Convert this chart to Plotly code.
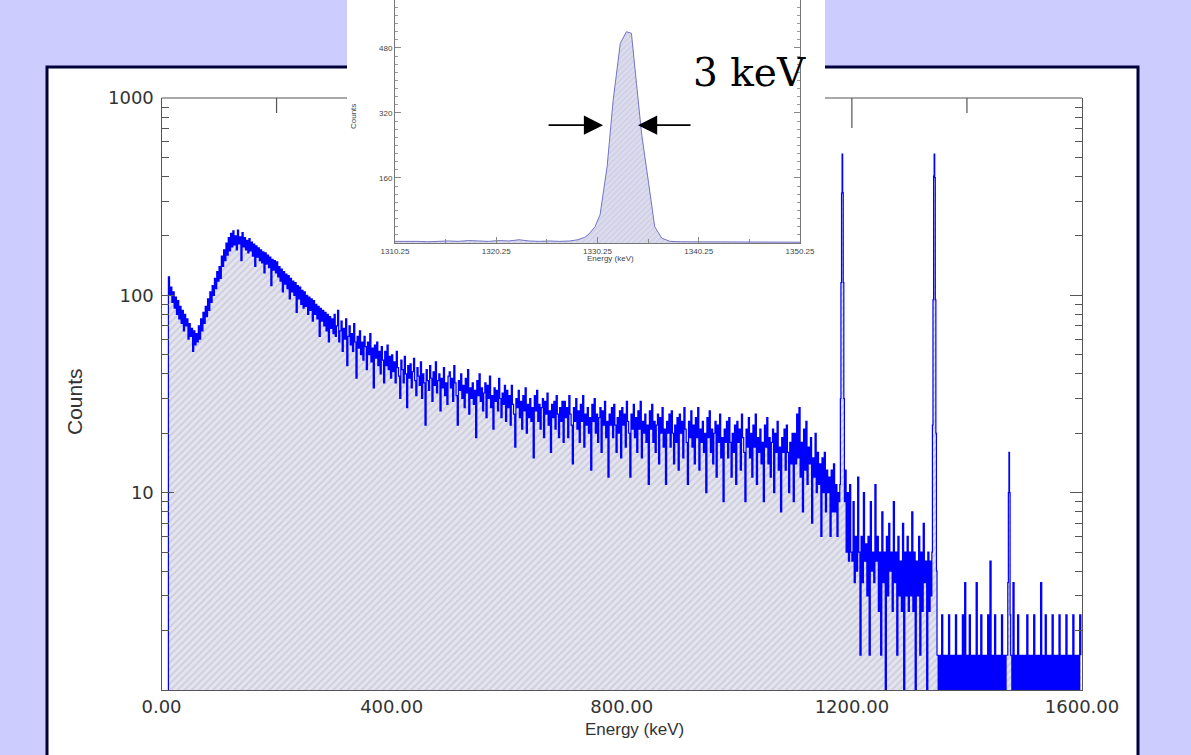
import plotly.graph_objects as go

W, H = 1191, 755

# ---------------- main spectrum data ----------------
CH_WIDTH = 2  # keV per continuum channel (channel i starts at i*CH_WIDTH keV)
cont_counts = [
    # 0 - 98 keV
    0.5, 0.5, 0.5, 0.5, 0.5, 0.5, 124, 100, 110, 92, 104, 86, 98, 80, 94, 76, 88, 72, 84, 66, 80, 70, 76, 60, 72,
    62, 68, 52, 66, 56, 64, 58, 70, 60, 76, 66, 82, 72, 88, 78, 96, 84, 104, 92, 112, 100, 122, 108, 132, 118,
    # 100 - 198
    140, 122, 158, 140, 170, 150, 184, 160, 196, 168, 206, 176, 212, 180, 200, 170, 214, 182, 198, 150, 208, 176, 196, 170, 190,
    164, 194, 168, 186, 158, 182, 140, 178, 156, 174, 150, 170, 146, 166, 130, 164, 144, 160, 138, 156, 112, 152, 134, 150, 130,
    # 200 - 298
    148, 124, 140, 118, 136, 104, 132, 114, 128, 108, 126, 96, 122, 104, 118, 100, 116, 82, 112, 96, 110, 90, 106, 86, 104,
    88, 100, 80, 98, 84, 96, 74, 94, 80, 90, 76, 88, 62, 86, 74, 84, 70, 82, 66, 80, 58, 78, 68, 76, 64,
    # 300 - 398
    80, 62, 70, 84, 58, 66, 74, 52, 68, 60, 76, 44, 62, 70, 56, 64, 52, 72, 58, 38, 62, 54, 66, 50, 58,
    47, 62, 55, 42, 58, 50, 64, 46, 54, 34, 56, 48, 58, 44, 52, 40, 55, 47, 36, 52, 44, 56, 42, 49, 38,
    # 400 - 498
    50, 41, 46, 36, 52, 43, 39, 30, 47, 42, 36, 49, 40, 27, 44, 38, 45, 34, 41, 48, 37, 31, 43, 39, 35,
    46, 30, 40, 36, 22, 42, 37, 33, 44, 38, 29, 41, 35, 46, 32, 37, 40, 26, 38, 34, 43, 31, 36, 28, 39,
    # 500 - 598
    41, 34, 38, 29, 44, 36, 31, 22, 37, 33, 40, 30, 35, 27, 38, 32, 42, 25, 34, 30, 36, 28, 33, 19, 37,
    31, 40, 29, 34, 26, 32, 36, 24, 35, 30, 39, 27, 31, 21, 34, 29, 33, 26, 38, 30, 24, 32, 28, 35, 23,
    # 600 - 698
    33, 27, 31, 22, 35, 28, 25, 17, 30, 27, 33, 24, 29, 21, 31, 26, 34, 20, 28, 24, 30, 23, 27, 15, 31,
    26, 33, 23, 28, 21, 27, 30, 19, 29, 25, 32, 22, 26, 16, 28, 24, 29, 21, 31, 25, 19, 27, 23, 29, 18,
    # 700 - 798
    29, 24, 27, 19, 31, 25, 22, 14, 27, 23, 30, 21, 26, 18, 28, 23, 31, 17, 25, 22, 27, 20, 24, 13, 28,
    23, 30, 20, 25, 18, 24, 27, 16, 26, 22, 29, 19, 23, 12, 25, 22, 27, 19, 28, 22, 16, 24, 20, 26, 15,
    # 800 - 898
    27, 22, 25, 17, 29, 23, 20, 12, 25, 21, 28, 19, 24, 16, 26, 21, 29, 15, 23, 20, 25, 18, 22, 11, 26,
    21, 28, 18, 23, 16, 22, 25, 14, 24, 20, 27, 17, 21, 11, 23, 20, 25, 17, 26, 20, 14, 22, 18, 24, 13,
    # 900 - 998
    25, 20, 23, 15, 27, 21, 18, 11, 23, 19, 26, 17, 22, 14, 24, 19, 27, 13, 21, 18, 23, 16, 20, 10, 24,
    19, 26, 16, 21, 14, 20, 23, 12, 22, 18, 25, 15, 19, 9, 21, 18, 23, 15, 24, 18, 12, 20, 16, 22, 11,
    # 1000 - 1098
    23, 18, 21, 13, 25, 19, 16, 9, 21, 17, 24, 15, 20, 12, 22, 17, 25, 11, 19, 16, 21, 14, 18, 9, 22,
    17, 24, 14, 19, 12, 18, 21, 10, 20, 16, 23, 13, 17, 8, 19, 16, 21, 13, 22, 16, 10, 18, 14, 20, 9,
    # 1100 - 1198
    20, 14, 25, 15, 27, 12, 18, 8, 21, 13, 23, 11, 17, 14, 19, 7, 15, 12, 20, 10, 16, 11, 14, 6, 15,
    10, 16, 8, 13, 10, 12, 6, 13, 8, 14, 8, 11, 6, 10, 9, 10, 10, 10, 10, 13, 5, 10, 4.5, 11, 5,
    # 1200 - 1298
    4.5, 9, 3.5, 6, 4, 12, 5, 1.5, 6, 3.5, 10, 4.5, 5.5, 3, 6, 1.5, 9, 4, 5, 3.5, 11, 4.5, 6, 2.5, 5,
    1.5, 8, 3.5, 5, 0.5, 6, 3, 7, 4, 5, 2.5, 9, 3.5, 5, 1.5, 6, 3, 4.5, 2.5, 7, 0.5, 5, 3, 6, 2.5,
    # 1300 - 1398
    5, 3, 8, 2.5, 5, 0.5, 4.5, 3, 6, 1.5, 5, 2.5, 7, 3.5, 4.5, 0.5, 5, 2.5, 4.5, 3, 3, 3, 3, 3, 1.5,
    0.5, 1.5, 0.5, 2.4, 0.5, 1.5, 0.5, 1.5, 0.5, 2.4, 0.5, 1.5, 0.5, 1.5, 0.5, 2.4, 0.5, 1.5, 0.5, 1.5, 0.5, 2.4, 0.5, 3.5, 0.5,
    # 1400 - 1498
    1.5, 0.5, 2.4, 0.5, 1.5, 0.5, 1.5, 0.5, 3.5, 0.5, 1.5, 0.5, 2.4, 0.5, 1.5, 0.5, 1.5, 0.5, 2.4, 0.5, 4.5, 0.5, 1.5, 0.5, 2.4,
    0.5, 1.5, 0.5, 1.5, 0.5, 2.4, 0.5, 1.5, 0.5, 1.5, 1.5, 1.5, 1.5, 1.5, 0.5, 3.5, 0.5, 1.5, 0.5, 2.4, 0.5, 1.5, 0.5, 1.5, 0.5,
    # 1500 - 1598
    1.5, 0.5, 2.4, 0.5, 1.5, 0.5, 1.5, 0.5, 2.4, 0.5, 1.5, 0.5, 1.5, 0.5, 3.5, 0.5, 1.5, 0.5, 2.4, 0.5, 1.5, 0.5, 1.5, 0.5, 2.4,
    0.5, 1.5, 0.5, 1.5, 0.5, 2.4, 0.5, 1.5, 0.5, 1.5, 0.5, 2.4, 0.5, 1.5, 0.5, 1.5, 0.5, 2.4, 0.5, 1.5, 0.5, 1.5, 0.5, 2.4, 1.5,
]

# photopeaks at 1 keV resolution
peak1_energy = [1179, 1180, 1181, 1182, 1183, 1184, 1185, 1186, 1187]
peak1_counts = [11, 30, 116, 330, 519, 332, 116, 30, 9]
peak2_energy = [1339, 1340, 1341, 1342, 1343, 1344, 1345, 1346, 1347]
peak2_counts = [5, 22, 95, 402, 519, 395, 95, 20, 4]
peak3_energy = [1470, 1471, 1472, 1473, 1474, 1475, 1476]
peak3_counts = [1.5, 3.5, 10, 16, 10, 2.4, 1.5]

FLOOR = 0.5  # below the visible log range -> bars reach the bottom axis

# ---------------- inset (zoom on the 1332 keV peak) ----------------
inset_energy = [1310.25, 1311.5, 1312.5, 1313.5, 1314.5, 1315.5, 1316.5, 1317.5, 1318.5, 1319.5,
                1320.5, 1321.5, 1322.5, 1323.5, 1324.5, 1325.5, 1326.5, 1327.5, 1328.3, 1329.0,
                1329.4, 1330.0, 1330.5, 1331.2, 1331.8, 1332.5, 1333.1, 1333.6, 1334.1, 1334.6,
                1335.3, 1335.9, 1336.6, 1337.4, 1338.5, 1340.0, 1342.0, 1344.0, 1346.0, 1348.0, 1350.25]
inset_counts = [4, 5, 4, 3, 4, 5, 4, 6, 5, 4,
                6, 5, 8, 5, 4, 5, 4, 5, 8, 14,
                22, 40, 69, 188, 352, 491, 520, 516, 393, 270,
                147, 40, 12, 4, 3, 3, 2, 3, 2, 3, 2]
inset_xticks = [1310.25, 1320.25, 1330.25, 1340.25, 1350.25]
inset_yticks = [160, 320, 480]
fwhm_marks = [1330.8, 1334.25]   # arrow tips (keV)
fwhm_level = 290                 # arrow height (counts)

main_xticks = [0, 400, 800, 1200, 1600]
main_yticks = [1, 10, 100, 1000]

# ---------------- layout geometry (pixels) ----------------
def px_x(p):
    return p / W

def px_y(p):
    return 1 - p / H

main_dom_x = [px_x(161.5), px_x(1082)]
main_dom_y = [px_y(690), px_y(98)]
ins_dom_x = [px_x(395), px_x(800)]
ins_dom_y = [px_y(243), 1.0]
inset_box = (347, 825, 0, 262)

# merge continuum and peaks
windows = [(min(e), max(e)) for e in (peak1_energy, peak2_energy, peak3_energy)]
pts = []
for i, c in enumerate(cont_counts):
    e = i * CH_WIDTH
    if not any(a <= e <= b for a, b in windows):
        pts.append((e, c))
for es, cs in ((peak1_energy, peak1_counts), (peak2_energy, peak2_counts), (peak3_energy, peak3_counts)):
    pts.extend(zip(es, cs))
pts.sort()
spec_x = [p[0] for p in pts]
spec_y = [p[1] for p in pts]

fig = go.Figure()

# baseline for the fill
fig.add_trace(go.Scatter(x=[0, 1600], y=[FLOOR, FLOOR], mode="lines",
                         line=dict(width=0, color="rgba(0,0,0,0)"),
                         hoverinfo="skip", showlegend=False, xaxis="x", yaxis="y"))
fig.add_trace(go.Scatter(x=spec_x, y=spec_y, mode="lines", line_shape="hv",
                         line=dict(color="#0000ff", width=1.2),
                         fill="tonexty", fillcolor="#e2e2ee",
                         fillpattern=dict(shape="/", bgcolor="#e4e4ee", fgcolor="#b6b6cc",
                                          size=5, solidity=0.35),
                         hoverinfo="skip", showlegend=False, xaxis="x", yaxis="y"))

# inset
fig.add_trace(go.Scatter(x=inset_energy, y=inset_counts, mode="lines",
                         line=dict(color="#7373c8", width=1),
                         fill="tozeroy", fillcolor="#d8d8ec",
                         fillpattern=dict(shape="/", bgcolor="#dcdcee", fgcolor="#bcbcd6",
                                          size=4, solidity=0.3),
                         hoverinfo="skip", showlegend=False, xaxis="x2", yaxis="y2"))

tick_font = dict(family="DejaVu Sans, sans-serif", size=18, color="#333333")
title_font = dict(family="Liberation Sans, Arial, sans-serif", size=17, color="#333333")
small_font = dict(family="Liberation Sans, Arial, sans-serif", size=8, color="#444444")

minor_log = [m * 10 ** k for k in range(3) for m in range(2, 10)]

fig.update_layout(
    width=W, height=H,
    margin=dict(l=0, r=0, t=0, b=0, pad=0, autoexpand=False),
    paper_bgcolor="#ccccff",
    plot_bgcolor="#ffffff",
    showlegend=False,
    xaxis=dict(domain=main_dom_x, range=[0, 1600], anchor="y", automargin=False,
               tickmode="array", tickvals=main_xticks,
               ticktext=[f"{v:.2f}" for v in main_xticks],
               ticks="", showline=True, linecolor="#555555", linewidth=1.2,
               mirror=False, showgrid=False, zeroline=False, tickfont=tick_font),
    yaxis=dict(domain=main_dom_y, type="log", range=[0, 3], anchor="x", automargin=False,
               tickmode="array", tickvals=main_yticks,
               ticktext=["" if v == 1 else str(v) for v in main_yticks],
               ticks="inside", ticklen=12, tickcolor="#555555", tickwidth=1.2,
               minor=dict(tickmode="array", tickvals=minor_log, ticks="inside",
                          ticklen=7, tickcolor="#555555", tickwidth=1.2, showgrid=False),
               showline=True, linecolor="#555555", linewidth=1.2, mirror="allticks",
               showgrid=False, zeroline=False, tickfont=tick_font, ticklabelstandoff=3),
    xaxis2=dict(domain=ins_dom_x, range=[inset_xticks[0], inset_xticks[-1]], anchor="y2",
                automargin=False, tickmode="array", tickvals=inset_xticks,
                ticktext=[f"{v:.2f}" for v in inset_xticks],
                ticks="inside", ticklen=6, tickcolor="#888888",
                minor=dict(tickmode="array",
                           tickvals=[(a + b) / 2 for a, b in zip(inset_xticks[:-1], inset_xticks[1:])],
                           ticks="inside", ticklen=4, tickcolor="#888888", showgrid=False),
                showline=True, linecolor="#777777", linewidth=1, mirror=False,
                showgrid=False, zeroline=False, tickfont=small_font),
    yaxis2=dict(domain=ins_dom_y, range=[0, 598], anchor="x2", automargin=False,
                tickmode="array", tickvals=inset_yticks, ticktext=[str(v) for v in inset_yticks],
                ticks="inside", ticklen=6, tickcolor="#888888",
                minor=dict(tickmode="array", tickvals=list(range(20, 600, 20)), ticks="inside",
                           ticklen=3, tickcolor="#999999", showgrid=False),
                showline=True, linecolor="#777777", linewidth=1, mirror="allticks",
                showgrid=False, zeroline=False, tickfont=small_font),
)

shapes = []
# white main panel with navy border
shapes.append(dict(type="rect", xref="paper", yref="paper", layer="below",
                   x0=px_x(47), x1=px_x(1138), y0=-0.05, y1=px_y(67),
                   fillcolor="#ffffff", line=dict(color="#00003c", width=3)))
# white inset panel
bx0, bx1, by0, by1 = inset_box
shapes.append(dict(type="rect", xref="paper", yref="paper", layer="below",
                   x0=px_x(bx0), x1=px_x(bx1), y0=px_y(by1), y1=1.05,
                   fillcolor="#ffffff", line=dict(width=0)))

# main top frame line and ticks, hidden behind the inset panel
def paper_to_keV(xp):
    return (xp - main_dom_x[0]) / (main_dom_x[1] - main_dom_x[0]) * 1600

e_left, e_right = paper_to_keV(px_x(bx0)), paper_to_keV(px_x(bx1))
top = main_dom_y[1]
for a, b in ((0, e_left), (e_right, 1600)):
    shapes.append(dict(type="line", xref="x", yref="paper", x0=a, x1=b, y0=top, y1=top,
                       line=dict(color="#555555", width=1.2)))
for e in range(200, 1600, 200):
    if e_left < e < e_right:
        continue
    ln = 30 if e % 400 == 0 else 15
    shapes.append(dict(type="line", xref="x", yref="paper", x0=e, x1=e,
                       y0=top, y1=top - ln / H, line=dict(color="#555555", width=1.2)))
fig.update_layout(shapes=shapes)

ann = []
ann.append(dict(text="Counts", xref="paper", yref="paper", x=px_x(74), y=px_y(402),
                xanchor="center", yanchor="middle",
                showarrow=False, textangle=-90,
                font=dict(family="Liberation Sans, Arial, sans-serif", size=21, color="#333333")))
ann.append(dict(text="Energy (keV)", xref="paper", yref="paper", x=px_x(634), y=px_y(729),
                xanchor="center", yanchor="middle", showarrow=False, font=title_font))
ann.append(dict(text="Counts", xref="paper", yref="paper", x=px_x(353), y=px_y(117),
                xanchor="center", yanchor="middle",
                showarrow=False, textangle=-90, font=small_font))
ann.append(dict(text="Energy (keV)", xref="paper", yref="paper", x=px_x(610), y=px_y(258),
                xanchor="center", yanchor="middle", showarrow=False, font=small_font))
ann.append(dict(text="3 keV", xref="paper", yref="paper", x=px_x(749), y=px_y(72),
                xanchor="center", yanchor="middle", showarrow=False,
                font=dict(family="DejaVu Serif, serif", size=39, color="#000000")))
ann.append(dict(text="", xref="x2", yref="y2", x=fwhm_marks[0], y=fwhm_level,
                ax=-56, ay=0, showarrow=True, arrowhead=2, arrowsize=2.4,
                arrowwidth=1.6, arrowcolor="#000000"))
ann.append(dict(text="", xref="x2", yref="y2", x=fwhm_marks[1], y=fwhm_level,
                ax=54, ay=0, showarrow=True, arrowhead=2, arrowsize=2.4,
                arrowwidth=1.6, arrowcolor="#000000"))
fig.update_layout(annotations=ann)

fig.write_html("out.html", config={"displayModeBar": False},
               post_script="document.body.style.margin='0';document.body.style.overflow='hidden';")
